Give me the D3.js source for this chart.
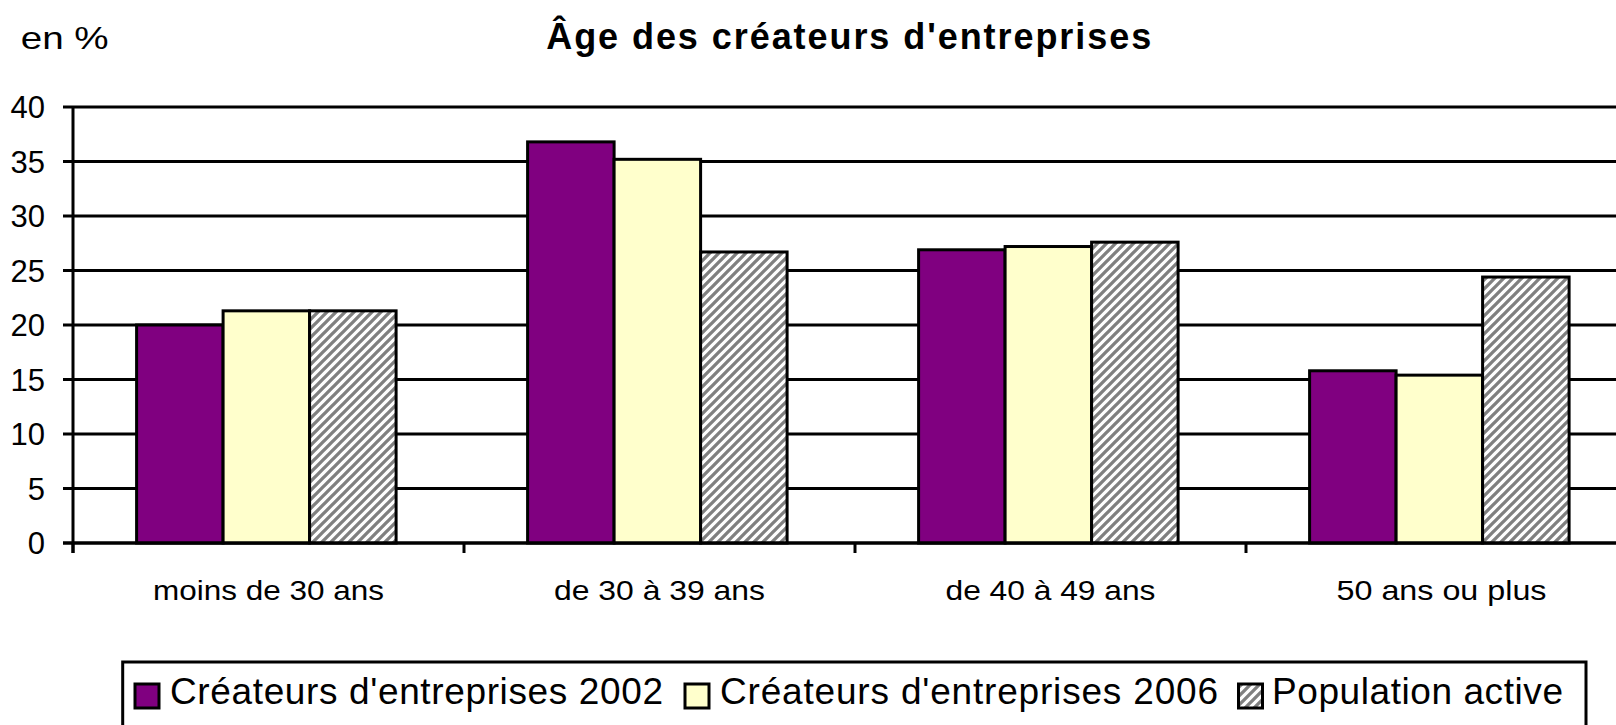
<!DOCTYPE html>
<html>
<head>
<meta charset="utf-8">
<script src="https://cdn.jsdelivr.net/npm/d3@7"></script>
<style>
  html, body { margin: 0; padding: 0; background: #fff; overflow: hidden; }
  svg { display: block; font-family: "Liberation Sans", Arial, sans-serif; }
</style>
</head>
<body>
<svg id="chart" width="1616" height="725"></svg>
<script>
// ---- Data ----
const categories = ["moins de 30 ans", "de 30 à 39 ans", "de 40 à 49 ans", "50 ans ou plus"];
const seriesNames = ["Créateurs d'entreprises 2002", "Créateurs d'entreprises 2006", "Population active"];
const values2002 = [20.0, 36.8, 26.9, 15.8];
const values2006 = [21.3, 35.2, 27.2, 15.4];
const valuesPop  = [21.3, 26.7, 27.6, 24.4];
const yTicks = [0, 5, 10, 15, 20, 25, 30, 35, 40];
const titleText = "Âge des créateurs d'entreprises";
const unitText = "en %";

// ---- Layout ----
const svg = d3.select("#chart");
const W = 1616, H = 725;
svg.append("rect").attr("width", W).attr("height", H).attr("fill", "#fff");

const defs = svg.append("defs");
const P = 9;
const pat = defs.append("pattern")
  .attr("id", "hatch")
  .attr("patternUnits", "userSpaceOnUse")
  .attr("width", P).attr("height", P);
pat.append("rect").attr("width", P).attr("height", P).attr("fill", "#fff");
pat.append("path")
  .attr("d", `M-2,2 L2,-2 M0,${P} L${P},0 M${P-2},${P+2} L${P+2},${P-2}`)
  .attr("stroke", "#808080").attr("stroke-width", 3.3);

const colors = ["#800080", "#FFFFCC", "url(#hatch)"];
const seriesValues = [values2002, values2006, valuesPop];

const x0 = 73, band = 391;
const x = d3.scaleBand().domain(categories).range([x0, x0 + band * categories.length]).padding(0);
const xs = d3.scaleBand().domain(seriesNames).range([63.6, 63.6 + 259.5]).padding(0);
const y = d3.scaleLinear().domain([0, 40]).range([543, 107]);

// gridlines + y ticks
const gy = svg.append("g");
gy.selectAll("line.grid").data(yTicks).join("line")
  .attr("x1", 63).attr("x2", x.range()[1])
  .attr("y1", d => y(d)).attr("y2", d => y(d))
  .attr("stroke", "#000").attr("stroke-width", 3.2);
gy.selectAll("text").data(yTicks).join("text")
  .attr("x", 45).attr("y", d => y(d) + 11)
  .attr("text-anchor", "end")
  .attr("font-size", 31)
  .text(d => d);

// bars
const rows = [];
categories.forEach((c, i) => {
  seriesNames.forEach((s, j) => rows.push({ c, s, j, v: seriesValues[j][i] }));
});
svg.append("g").selectAll("rect").data(rows).join("rect")
  .attr("x", d => x(d.c) + xs(d.s))
  .attr("width", xs.bandwidth())
  .attr("y", d => y(d.v))
  .attr("height", d => y(0) - y(d.v))
  .attr("fill", d => colors[d.j])
  .attr("stroke", "#000").attr("stroke-width", 3);

// axes lines
svg.append("line").attr("x1", x0).attr("x2", x0).attr("y1", y(40)).attr("y2", 553)
  .attr("stroke", "#000").attr("stroke-width", 3);
svg.append("line").attr("x1", 63).attr("x2", x.range()[1]).attr("y1", y(0)).attr("y2", y(0))
  .attr("stroke", "#000").attr("stroke-width", 3.2);
const bounds = categories.map(c => x(c));
svg.append("g").selectAll("line").data(bounds).join("line")
  .attr("x1", d => d).attr("x2", d => d).attr("y1", y(0)).attr("y2", 553)
  .attr("stroke", "#000").attr("stroke-width", 3);

// category labels
const catWidths = [231, 211, 210, 210];
svg.append("g").selectAll("text").data(categories).join("text")
  .attr("x", d => x(d) + x.bandwidth() / 2)
  .attr("y", 600)
  .attr("text-anchor", "middle")
  .attr("font-size", 28)
  .attr("textLength", (d, i) => catWidths[i])
  .attr("lengthAdjust", "spacingAndGlyphs")
  .text(d => d);

// title
svg.append("text").attr("x", 848.7).attr("y", 49)
  .attr("text-anchor", "middle")
  .attr("font-size", 36).attr("font-weight", "bold")
  .attr("textLength", 605).attr("lengthAdjust", "spacing")
  .text(titleText);
svg.append("text").attr("x", 20.7).attr("y", 49)
  .attr("font-size", 32)
  .attr("textLength", 88).attr("lengthAdjust", "spacingAndGlyphs")
  .text(unitText);

// legend
svg.append("rect").attr("x", 122.7).attr("y", 662).attr("width", 1463.3).attr("height", 120)
  .attr("fill", "#fff").attr("stroke", "#000").attr("stroke-width", 3);
const legSwatchX = [135, 685, 1238.5];
const legTextX = [170, 720, 1272];
const legTextW = [493, 498, 291];
const lg = svg.append("g").selectAll("g").data(seriesNames).join("g");
lg.append("rect")
  .attr("x", (d, i) => legSwatchX[i]).attr("y", 684)
  .attr("width", 24).attr("height", 24)
  .attr("fill", (d, i) => colors[i])
  .attr("stroke", "#000").attr("stroke-width", 3);
lg.append("text")
  .attr("x", (d, i) => legTextX[i]).attr("y", 704)
  .attr("font-size", 37)
  .attr("textLength", (d, i) => legTextW[i]).attr("lengthAdjust", "spacing")
  .text(d => d);
</script>
</body>
</html>
